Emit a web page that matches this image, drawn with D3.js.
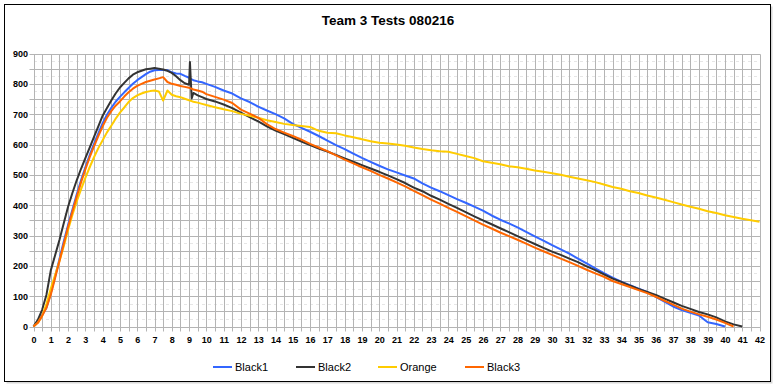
<!DOCTYPE html>
<html><head><meta charset="utf-8">
<script src="https://cdn.jsdelivr.net/npm/d3@7/dist/d3.min.js"></script>
<style>body{margin:0;background:#fff;} svg{display:block;font-family:"Liberation Sans",Arial,sans-serif;}</style>
</head><body><svg id="c" width="776" height="388"></svg>
<script>
const times=[0,0.25,0.5,0.75,1,1.25,1.5,1.75,2,2.25,2.5,2.75,3,3.25,3.5,3.75,4,4.25,4.5,4.75,5,5.25,5.5,5.75,6,6.25,6.5,6.75,7,7.25,7.5,7.75,8,8.25,8.5,8.75,9,9.05,9.15,9.25,9.5,9.75,10,
10.5,11,11.5,12,12.5,13,13.5,14,14.5,15,15.5,16,16.5,17,17.5,18,18.5,19,19.5,20,20.5,21,21.5,22,22.5,23,23.5,24,24.5,25,25.5,26,26.5,27,27.5,28,28.5,29,29.5,30,30.5,31,31.5,32,32.5,33,33.5,34,34.5,35,35.5,36,36.5,37,37.5,38,38.5,39,39.5,40,40.5,41,41.5,42];

const black1=[0,15,38,62,110,165,222,280,335,385,435,482,525,565,602,637,670,698,721,741,757,772,786,800,812,822,832,840,845,846,846,845,838,834,833,826,820,818,815,812,808,805,800,
790,778,768,752,740,725,712,700,686,668,655,642,628,613,598,585,570,556,543,530,518,508,498,488,472,458,446,433,420,408,395,382,366,352,340,327,312,297,283,268,254,240,224,208,192,176,161,148,136,125,114,98,82,66,54,45,36,14,8,0,null,null,null,null];

const black2=[0,22,55,105,185,235,285,340,395,440,482,520,555,590,625,660,695,720,745,768,788,803,818,830,838,843,848,850,852,850,847,843,836,825,812,802,797,872,752,770,762,756,750,
742,732,720,705,690,676,660,646,634,622,610,598,587,577,566,554,543,532,521,510,498,486,473,458,446,431,418,404,391,377,363,350,337,324,311,298,285,272,259,247,236,224,212,198,186,172,158,147,135,124,114,104,92,80,68,58,48,40,30,17,7,0,null,null];

const orange=[0,12,35,75,125,170,215,265,318,368,412,452,490,525,558,588,614,640,662,685,705,722,740,753,762,768,773,776,778,775,745,778,764,759,756,751,746,745,743,741,738,734,730,
723,716,710,701,695,688,680,674,668,664,661,658,645,639,637,630,624,617,611,606,603,600,596,590,585,581,578,576,569,562,555,545,540,535,528,525,520,514,510,505,500,494,488,482,476,468,460,454,446,440,432,425,418,410,402,395,388,380,374,367,361,355,350,345];

const black3=[0,12,35,62,105,160,215,272,328,378,428,475,518,558,594,628,660,688,710,728,742,758,772,784,793,800,806,810,814,818,822,806,800,797,793,790,787,786,784,781,778,774,766,
757,748,737,715,702,688,667,651,639,628,616,602,590,578,564,550,538,525,513,500,488,475,462,447,433,418,405,391,378,364,350,336,323,310,298,286,273,260,248,236,224,212,200,187,175,164,150,140,130,120,110,98,85,72,59,49,40,32,23,12,0,null,null,null];

const seriesNames=["Black1","Black2","Orange","Black3"];
const seriesValues=[black1,black2,orange,black3];
const seriesColors=["#3366ff","#333333","#ffcc00","#ff6600"];
const yTicks=[0,100,200,300,400,500,600,700,800,900];
const xTicks=d3.range(0,43,1);
const title="Team 3 Tests 080216";

const svg=d3.select("#c");
svg.append("rect").attr("x",6.5).attr("y",6.5).attr("width",766).attr("height",377).attr("fill","#d8d8d8");
svg.append("rect").attr("x",4.5).attr("y",4.5).attr("width",766).attr("height",377).attr("fill","#fff").attr("stroke","#000").attr("stroke-width",1);

const x=d3.scaleLinear().domain([0,42]).range([33.5,759.5]);
const y=d3.scaleLinear().domain([0,900]).range([326.5,53.5]);
const px=v=>Math.round(x(v))+0.5, py=v=>Math.round(y(v))+0.5;

const grid=svg.append("g");
grid.selectAll("line.mn").data(d3.range(25,900,50)).enter().append("line")
  .attr("x1",34).attr("x2",759).attr("y1",py).attr("y2",py)
  .attr("stroke","#e6e6e6").attr("stroke-dasharray","3,3");
grid.selectAll("line.h").data(d3.range(0,901,50)).enter().append("line")
  .attr("x1",29.5).attr("x2",px(42)).attr("y1",py).attr("y2",py)
  .attr("stroke","#b4b4b4");
grid.selectAll("line.v").data(d3.range(0,42.01,0.5)).enter().append("line")
  .attr("x1",px).attr("x2",px).attr("y1",py(900)).attr("y2",py(0)+4)
  .attr("stroke","#b4b4b4");

const ya=svg.append("g").attr("transform","translate(28,0)")
  .call(d3.axisLeft(y).tickValues(yTicks).tickSize(0).tickPadding(0));
ya.select(".domain").remove();
ya.selectAll("text").attr("font-size","9px").attr("font-weight","bold").attr("fill","#000")
  .attr("font-family","'Liberation Sans',Arial,sans-serif");
const xa=svg.append("g").attr("transform","translate(0,337)")
  .call(d3.axisBottom(x).tickValues(xTicks).tickSize(0).tickPadding(0));
xa.select(".domain").remove();
xa.selectAll("text").attr("font-size","9px").attr("font-weight","bold").attr("fill","#000")
  .attr("font-family","'Liberation Sans',Arial,sans-serif");

const line=d3.line().defined(d=>d[1]!==null).x(d=>x(d[0])).y(d=>y(d[1]));
seriesValues.forEach((vals,i)=>{
  svg.append("path").datum(times.map((t,j)=>[t,vals[j]]))
    .attr("d",line).attr("fill","none").attr("stroke",seriesColors[i])
    .attr("stroke-width",2).attr("stroke-linejoin","round");
});

svg.append("text").attr("x",388).attr("y",25).attr("text-anchor","middle")
  .attr("font-size","13.5px").attr("font-weight","bold").text(title);

const legX=[213,296,378,465];
seriesNames.forEach((n,i)=>{
  svg.append("line").attr("x1",legX[i]).attr("x2",legX[i]+19).attr("y1",367).attr("y2",367)
    .attr("stroke",seriesColors[i]).attr("stroke-width",2);
  svg.append("text").attr("x",legX[i]+22).attr("y",371).attr("font-size","11px").text(n);
});
</script></body></html>
